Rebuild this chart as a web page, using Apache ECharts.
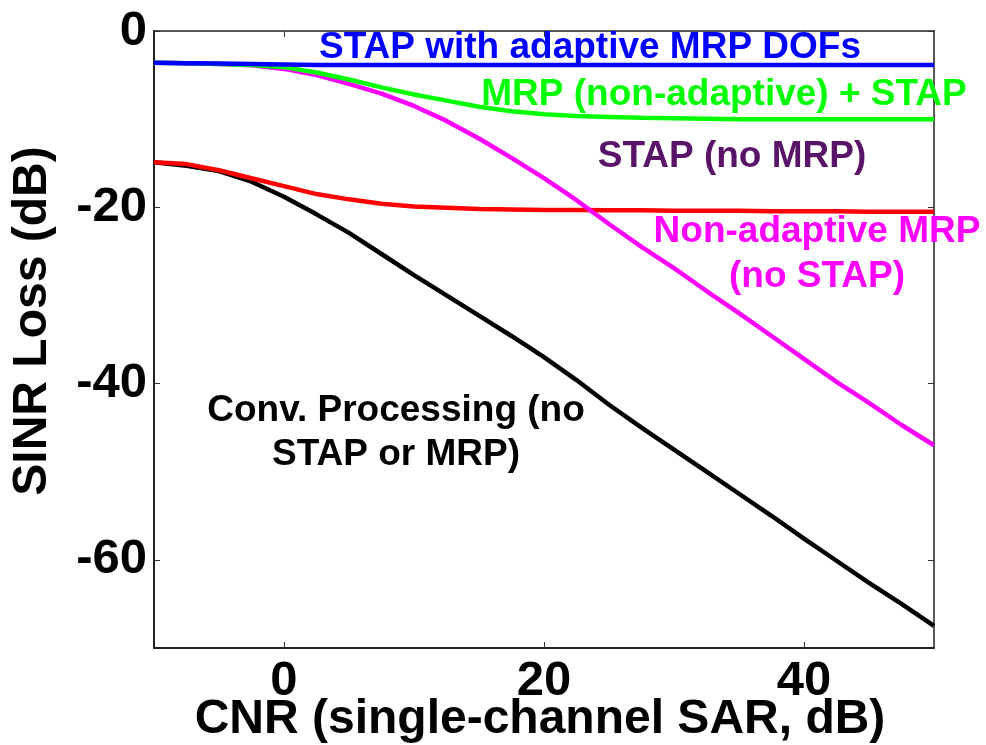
<!DOCTYPE html>
<html>
<head>
<meta charset="utf-8">
<script src="https://cdn.jsdelivr.net/npm/echarts@6/dist/echarts.min.js"></script>
<style>
  html, body { margin: 0; padding: 0; background: #fff; }
  #main { width: 986px; height: 745px; }
</style>
</head>
<body>
<div id="main"></div>
<script>
// CNR (dB) 采样点
var cnr = [-10, -7.5, -5, -2.5, 0, 2.5, 5, 7.5, 10, 12.5, 15, 17.5, 20, 22.5, 25, 27.5, 30, 32.5, 35, 37.5, 40, 42.5, 45, 47.5, 50];
// SINR Loss (dB)
var stapAdaptiveMrp = [-3.6, -3.65, -3.7, -3.75, -3.8, -3.85, -3.85, -3.85, -3.85, -3.85, -3.85, -3.85, -3.85, -3.85, -3.85, -3.85, -3.85, -3.85, -3.85, -3.85, -3.85, -3.85, -3.85, -3.85, -3.85];
var mrpPlusStap = [-3.6, -3.65, -3.75, -3.85, -4.1, -4.7, -5.5, -6.4, -7.2, -7.9, -8.6, -9.1, -9.45, -9.65, -9.75, -9.85, -9.9, -9.95, -10.0, -10.0, -10.0, -10.0, -10.0, -10.0, -10.0];
var nonAdaptiveMrp = [-3.6, -3.65, -3.75, -3.9, -4.3, -5.0, -6.0, -7.1, -8.5, -10.2, -12.2, -14.4, -16.7, -19.2, -21.9, -24.5, -26.9, -29.5, -32.0, -34.6, -37.2, -39.8, -42.2, -44.7, -47.0];
var stapNoMrp = [-14.9, -15.1, -15.8, -16.7, -17.6, -18.5, -19.1, -19.6, -19.9, -20.05, -20.2, -20.25, -20.3, -20.3, -20.35, -20.35, -20.4, -20.4, -20.4, -20.45, -20.45, -20.45, -20.5, -20.5, -20.5];
var convProcessing = [-14.9, -15.3, -15.9, -17.1, -18.8, -20.8, -22.9, -25.3, -27.7, -30.0, -32.3, -34.6, -37.0, -39.6, -42.4, -45.0, -47.5, -50.0, -52.5, -55.0, -57.6, -60.1, -62.6, -65.0, -67.5];
// 刻度
var xTicks = [0, 20, 40];
var yTicks = [0, -20, -40, -60];

function pairs(ys) {
    var out = [];
    for (var i = 0; i < cnr.length; i++) {
        out.push([cnr[i], ys[i]]);
    }
    return out;
}

var FONT = 'Liberation Sans, Arial, sans-serif';

function lineSeries(name, ys, color) {
    return {
        name: name,
        type: 'line',
        data: pairs(ys),
        symbol: 'none',
        smooth: false,
        lineStyle: { color: color, width: 4.5 },
        itemStyle: { color: color },
        silent: true
    };
}

function annot(text, x, y, color, rotate) {
    return {
        type: 'text',
        x: x,
        y: y,
        rotation: rotate || 0,
        style: {
            text: text,
            fill: color,
            font: 'bold 37px ' + FONT,
            textAlign: 'center',
            textVerticalAlign: 'middle'
        },
        z: 100
    };
}

var myChart = echarts.init(document.getElementById('main'));
var tickStyle = { show: true, inside: true, length: 6, lineStyle: { color: '#333', width: 1 } };

var option = {
    animation: false,
    backgroundColor: '#fff',
    grid: { left: 154, right: 52, top: 31, bottom: 97, containLabel: false },
    xAxis: [{
        type: 'value',
        min: -10,
        max: 50,
        position: 'bottom',
        axisLine: { show: true, onZero: false, lineStyle: { color: '#222', width: 2 } },
        axisTick: Object.assign({ customValues: xTicks }, tickStyle),
        axisLabel: { customValues: xTicks, margin: 9, color: '#000', fontSize: 49, fontWeight: 'bold', fontFamily: FONT },
        splitLine: { show: false }
    }, {
        type: 'value',
        min: -10,
        max: 50,
        position: 'top',
        axisLine: { show: true, onZero: false, lineStyle: { color: '#222', width: 1.5 } },
        axisTick: Object.assign({ customValues: xTicks }, tickStyle),
        axisLabel: { show: false },
        splitLine: { show: false }
    }],
    yAxis: [{
        type: 'value',
        min: -70,
        max: 0,
        position: 'left',
        axisLine: { show: true, onZero: false, lineStyle: { color: '#222', width: 2 } },
        axisTick: Object.assign({ customValues: yTicks }, tickStyle),
        axisLabel: { customValues: yTicks, margin: 7, color: '#000', fontSize: 49, fontWeight: 'bold', fontFamily: FONT },
        splitLine: { show: false }
    }, {
        type: 'value',
        min: -70,
        max: 0,
        position: 'right',
        axisLine: { show: true, onZero: false, lineStyle: { color: '#222', width: 1.5 } },
        axisTick: Object.assign({ customValues: yTicks }, tickStyle),
        axisLabel: { show: false },
        splitLine: { show: false }
    }],
    series: [
        lineSeries('Conv. Processing', convProcessing, '#000000'),
        lineSeries('STAP (no MRP)', stapNoMrp, '#ff0000'),
        lineSeries('Non-adaptive MRP', nonAdaptiveMrp, '#ff00ff'),
        lineSeries('MRP (non-adaptive) + STAP', mrpPlusStap, '#00ff00'),
        lineSeries('STAP with adaptive MRP DOFs', stapAdaptiveMrp, '#0000ff')
    ],
    graphic: [
        annot('STAP with adaptive MRP DOFs', 590, 48, '#0000ff'),
        annot('MRP (non-adaptive) + STAP', 724, 95, '#00ff00'),
        annot('STAP (no MRP)', 732, 157, '#581466'),
        annot('Non-adaptive MRP', 817, 232, '#ff00ff'),
        annot('(no STAP)', 817, 277, '#ff00ff'),
        annot('Conv. Processing (no', 396, 411, '#000000'),
        annot('STAP or MRP)', 396, 455, '#000000'),
        {
            type: 'text', x: 540, y: 720,
            style: { text: 'CNR (single-channel SAR, dB)', fill: '#000', font: 'bold 48px ' + FONT, textAlign: 'center', textVerticalAlign: 'middle' }
        },
        {
            type: 'text', x: 33, y: 321, rotation: Math.PI / 2,
            style: { text: 'SINR Loss (dB)', fill: '#000', font: 'bold 48px ' + FONT, textAlign: 'center', textVerticalAlign: 'middle' }
        }
    ]
};
myChart.setOption(option);
</script>
</body>
</html>
